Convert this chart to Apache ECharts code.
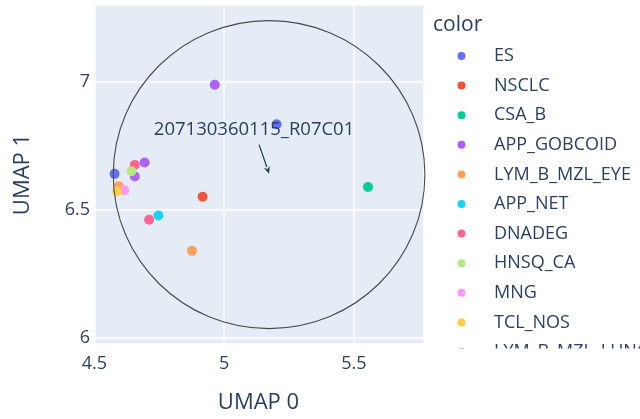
<!DOCTYPE html>
<html>
<head>
<meta charset="utf-8">
<script src="https://cdn.jsdelivr.net/npm/echarts@6/dist/echarts.min.js"></script>
<style>html,body{margin:0;padding:0;background:#fff}#c{width:640px;height:419px}</style>
</head>
<body>
<div id="c"></div>
<script>
// Categories (legend order) and their colours
const categories = ['ES','NSCLC','CSA_B','APP_GOBCOID','LYM_B_MZL_EYE','APP_NET','DNADEG','HNSQ_CA','MNG','TCL_NOS','LYM_B_MZL_LUNG'];
const palette = ['#636efa','#EF553B','#00cc96','#ab63fa','#FFA15A','#19d3f3','#FF6692','#B6E880','#FF97FF','#FECB52','#636efa'];

// Points
const pointCategory = ['ES','ES','NSCLC','CSA_B','APP_GOBCOID','APP_GOBCOID','APP_GOBCOID','LYM_B_MZL_EYE','LYM_B_MZL_EYE','APP_NET','DNADEG','DNADEG','HNSQ_CA','MNG','TCL_NOS'];
const umap0 = [4.578, 5.202, 4.917, 5.554, 4.964, 4.694, 4.656, 4.594, 4.876, 4.747, 4.656, 4.711, 4.643, 4.615, 4.588];
const umap1 = [6.640, 6.833, 6.551, 6.589, 6.987, 6.684, 6.630, 6.592, 6.340, 6.478, 6.675, 6.461, 6.650, 6.576, 6.572];

// Highlight annotation
const annotationText = ['207130360115_R07C01'];
const annotationPoint = [[5.173, 6.637]];
const circleRadius = [0.6];

// Axis ranges
const xRange = [4.495, 5.7696];
const yRange = [5.977, 7.298];

const textColor = '#2a3f5f';
const font = 'Open Sans';

const chart = echarts.init(document.getElementById('c'), null, {renderer: 'canvas'});

const scatterSeries = categories.map((cat, ci) => ({
  name: cat,
  type: 'scatter',
  symbol: 'circle',
  symbolSize: 10,
  itemStyle: {color: palette[ci], opacity: 1},
  z: 2,
  data: umap0.map((x, i) => pointCategory[i] === cat ? [x, umap1[i]] : null).filter(d => d !== null)
}));

const tickFmt = v => (Math.abs(v * 2 - Math.round(v * 2)) < 1e-6 ? String(Math.round(v * 2) / 2) : '');

const option = {
  animation: false,
  color: palette,
  title: {
    text: 'color', left: 433, top: 12, padding: 0,
    textStyle: {color: textColor, fontFamily: font, fontSize: 21, fontWeight: 'normal', lineHeight: 26}
  },
  legend: {
    orient: 'vertical', left: 457.5, top: 46, padding: 0,
    itemWidth: 8, itemHeight: 8, itemGap: 9.6,
    icon: 'circle',
    data: categories,
    textStyle: {color: textColor, fontFamily: font, fontSize: 18, lineHeight: 20, padding: [0, 0, 0, 23.5]}
  },
  grid: {
    left: 93, right: 216, top: 5, bottom: 72,
    show: true, backgroundColor: '#E5ECF6', borderWidth: 0
  },
  xAxis: {
    type: 'value', min: xRange[0], max: xRange[1], splitNumber: 3,
    name: 'UMAP 0', nameLocation: 'middle', nameGap: 48,
    nameTextStyle: {color: textColor, fontFamily: font, fontSize: 22},
    axisLine: {show: false}, axisTick: {show: false},
    axisLabel: {color: textColor, fontFamily: font, fontSize: 18, margin: 11, formatter: tickFmt},
    splitLine: {show: true, lineStyle: {color: '#ffffff', width: 1.5}}
  },
  yAxis: {
    type: 'value', min: yRange[0], max: yRange[1], splitNumber: 3,
    name: 'UMAP 1', nameLocation: 'middle', nameGap: 59,
    nameTextStyle: {color: textColor, fontFamily: font, fontSize: 22},
    axisLine: {show: false}, axisTick: {show: false},
    axisLabel: {color: textColor, fontFamily: font, fontSize: 18, margin: 3, formatter: tickFmt},
    splitLine: {show: true, lineStyle: {color: '#ffffff', width: 1.5}}
  },
  graphic: [
    {type: 'rect', z: 100, shape: {x: 426, y: 348.5, width: 214, height: 71}, style: {fill: '#ffffff'}}
  ],
  series: scatterSeries.concat([
    {
      type: 'custom', name: 'circle', z: 5, silent: true, clip: false,
      data: annotationPoint.map((p, i) => [p[0], p[1], circleRadius[i]]),
      renderItem: (params, api) => {
        const c = api.coord([api.value(0), api.value(1)]);
        const s = api.size([api.value(2), api.value(2)]);
        return {
          type: 'ellipse',
          shape: {cx: c[0], cy: c[1], rx: s[0], ry: s[1]},
          style: {fill: 'none', stroke: '#4a4a4a', lineWidth: 1.1}
        };
      }
    },
    {
      type: 'custom', name: 'annotation', z: 6, silent: true, clip: false,
      data: annotationPoint.map(p => [p[0], p[1]]),
      renderItem: (params, api) => {
        const c = api.coord([api.value(0), api.value(1)]);
        const ax = -15, ay = -45;
        const sx = c[0] + ax * 2 / 3, sy = c[1] + ay * 2 / 3;
        const tx = c[0], ty = c[1] - 1;
        const ang = Math.atan2(ty - sy, tx - sx);
        const L = 7, W = 3.2;
        const bx = tx - L * Math.cos(ang), by = ty - L * Math.sin(ang);
        const px = -Math.sin(ang), py = Math.cos(ang);
        return {
          type: 'group',
          children: [
            {type: 'line', shape: {x1: sx, y1: sy, x2: bx, y2: by}, style: {stroke: textColor, lineWidth: 1.3}},
            {type: 'polygon', shape: {points: [[tx, ty], [bx + W * px, by + W * py], [bx + 2 * Math.cos(ang), by + 2 * Math.sin(ang)], [bx - W * px, by - W * py]]}, style: {fill: textColor}},
            {type: 'text', style: {x: c[0] + ax, y: c[1] + ay, text: annotationText[params.dataIndex], align: 'center', verticalAlign: 'middle', fill: textColor, font: '18.5px "Open Sans"'}}
          ]
        };
      }
    }
  ])
};

chart.setOption(option);
</script>
</body>
</html>
